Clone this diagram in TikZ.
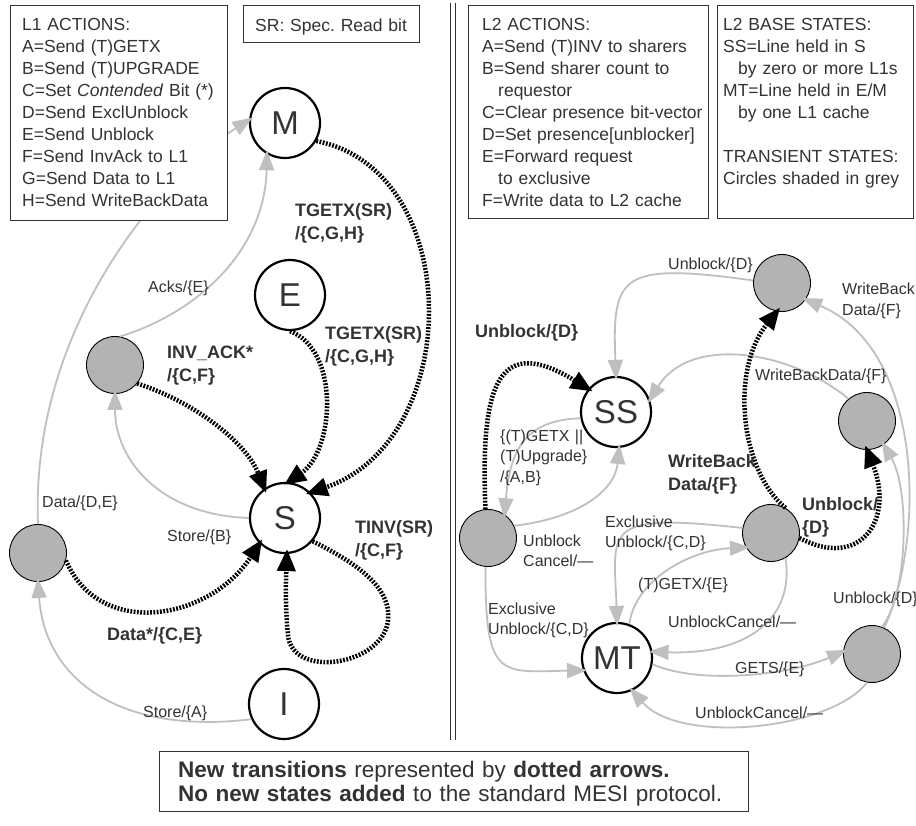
\documentclass[tikz,border=0pt]{standalone}
\usepackage{fontspec}
\setmainfont{Liberation Sans}
\usetikzlibrary{arrows.meta}
\frenchspacing

\definecolor{ink}{HTML}{333333}
\definecolor{edgegray}{HTML}{BFBFBF}
\definecolor{statefill}{HTML}{B3B3B3}

\newcommand\panfont{\fontsize{17.5}{22}\selectfont}
\newcommand\labfont{\fontsize{16}{20.5}\selectfont}
\newcommand\labbold{\fontsize{18}{23}\selectfont\bfseries}
\newcommand\circfont{\fontsize{33}{33}\selectfont}
\newcommand\notefont{\fontsize{22.5}{24}\selectfont}

\pgfdeclarelayer{paper}
\pgfdeclarelayer{states}
\pgfdeclarelayer{edges}
\pgfsetlayers{paper,states,edges,main}

\begin{document}
\begin{tikzpicture}[x=1pt,y=-1pt,
  base/.style={circle, draw=black, line width=2.2pt, minimum size=70pt, inner sep=0pt,
    fill=white, font=\circfont, text=ink},
  transient/.style={circle, draw=black, line width=0.9pt, minimum size=57pt, inner sep=0pt,
    fill=statefill},
  old/.style={draw=edgegray, line width=1.8pt, shorten >=-4pt,
    -{Triangle[length=20pt,width=15pt]}},
  new/.style={draw=black, line width=4.5pt, dash pattern=on 1.8pt off 1.5pt, shorten >=-5pt,
    -{Triangle[length=22pt,width=18pt]}},
  lbl/.style={font=\labfont, text=ink, inner sep=0pt, anchor=base west},
  lbltwo/.style={lbl, text width=150pt, align=left},
  bold/.style={font=\labbold, text=ink, inner sep=0pt, anchor=base west},
  boldtwo/.style={bold, text width=150pt, align=left},
  panel/.style={draw=ink, line width=1.1pt, fill=white, inner sep=0pt, anchor=north west},
  paneltext/.style={font=\panfont, text=ink, inner sep=0pt, anchor=base west,
    text width=230pt, align=left},
]
\begin{pgfonlayer}{paper}
  \fill[white] (0,0) rectangle (916,826);
\end{pgfonlayer}
\useasboundingbox (0,0) rectangle (916,826);

\begin{pgfonlayer}{states}
  % L1 controller states
  \node[base] (M) at (285,123) {M};
  \node[base] (E) at (290,295) {E};
  \node[base] (S) at (285,518) {S};
  \node[base] (I) at (284,704) {I};
  \node[transient] (g1) at (115,365) {};
  \node[transient] (g2) at (38,553) {};
  % L2 controller states
  \node[base] (SS) at (616,412) {SS};
  \node[base] (MT) at (617,658) {MT};
  \node[transient] (gt) at (782,283) {};
  \node[transient] (gmr) at (867,421) {};
  \node[transient] (gc) at (771,533) {};
  \node[transient] (gl) at (488,538) {};
  \node[transient] (gbr) at (872,654) {};
\end{pgfonlayer}

% ---------- transitions ----------
\begin{pgfonlayer}{edges}
  % L1: standard transitions
  \draw[old] (g2.north) .. controls (30,320) and (170,170) .. (M.175);
  \draw[old] (g1.80) .. controls (205,310) and (265,245) .. (M.240);
  \draw[old] (S.180) .. controls (160,515) and (115,460) .. (g1.south);
  \draw[old] (I.205) .. controls (120,735) and (45,680) .. (g2.south);
  % L1: new transitions
  \draw[new] (M.-30) .. controls (465,170) and (465,440) .. (S.45);
  \draw[new] (E.south) .. controls (340,350) and (335,450) .. (S.85);
  \draw[new] (g1.-40) .. controls (190,400) and (245,440) .. (S.125);
  \draw[new] (g2.-15) .. controls (100,640) and (210,620) .. (S.225);
  \draw[new] (S.-40) .. controls (350,560) and (392,585) .. (388,620)
             .. controls (384,665) and (292,680) .. (288,635)
             .. controls (285,605) and (286,580) .. (S.-87);
  % L2: standard transitions
  \draw[old] (gt.175) .. controls (620,262) and (612,275) .. (SS.north);
  \draw[old] (gbr.65) .. controls (925,540) and (925,350) .. (gt.-35);
  \draw[old] (gbr.70) .. controls (908,595) and (910,490) .. (gmr.-55);
  \draw[old] (gmr.130) .. controls (790,350) and (690,335) .. (SS.20);
  \draw[old] (SS.190) .. controls (525,420) and (510,450) .. (gl.55);
  \draw[old] (gl.25) .. controls (580,518) and (615,490) .. (SS.-85);
  \draw[old] (gc.170) .. controls (600,512) and (614,530) .. (MT.north);
  \draw[old] (MT.70) .. controls (635,580) and (690,550) .. (gc.210);
  \draw[old] (gc.-60) .. controls (795,620) and (745,655) .. (MT.10);
  \draw[old] (gl.-95) .. controls (485,680) and (500,672) .. (MT.200);
  \draw[old] (MT.-10) .. controls (700,685) and (790,675) .. (gbr.175);
  \draw[old] (gbr.-100) .. controls (830,730) and (680,745) .. (MT.-65);
  % L2: new transitions
  \draw[new] (gl.95) .. controls (480,380) and (500,335) .. (SS.140);
  \draw[new] (gc.60) .. controls (740,470) and (730,370) .. (gt.-100);
  \draw[new] (gc.-10) .. controls (860,570) and (895,520) .. (gmr.-90);
\end{pgfonlayer}

% ---------- legend panels ----------
\node[panel, minimum width=217pt, minimum height=215pt] (l1panel) at (10,5) {};
\node[paneltext] (l1text) at (22,31) {L1 ACTIONS:\\
  A=Send (T)GETX\\
  B=Send (T)UPGRADE\\
  C=Set \textit{Contended} Bit (*)\\
  D=Send ExclUnblock\\
  E=Send Unblock\\
  F=Send InvAck to L1\\
  G=Send Data to L1\\
  H=Send WriteBackData};

\node[panel, minimum width=176pt, minimum height=37pt] (srpanel) at (243,5) {};
\node[paneltext] (srtext) at (255,32) {SR: Spec. Read bit};

\node[panel, minimum width=240pt, minimum height=213pt] (l2panel) at (468,5) {};
\node[paneltext] (l2text) at (482,31) {L2 ACTIONS:\\
  A=Send (T)INV to sharers\\
  B=Send sharer count to\\
  \hspace*{16pt}requestor\\
  C=Clear presence bit-vector\\
  D=Set presence[unblocker]\\
  E=Forward request\\
  \hspace*{16pt}to exclusive\\
  F=Write data to L2 cache};

\node[panel, minimum width=196pt, minimum height=213pt] (stpanel) at (717,5) {};
\node[paneltext] (sttext) at (723,31) {L2 BASE STATES:\\
  SS=Line held in S\\
  \hspace*{15pt}by zero or more L1s\\
  MT=Line held in E/M\\
  \hspace*{15pt}by one L1 cache\\[22pt]
  TRANSIENT STATES:\\
  Circles shaded in grey};

% divider between the L1 and L2 halves
\draw[ink, line width=0.9pt] (450,3) -- (450,740);
\draw[ink, line width=0.9pt] (455,3) -- (455,740);

\node[panel, minimum width=589pt, minimum height=60pt] (notepanel) at (159,751) {};
\node[font=\notefont, text=ink, inner sep=0pt, anchor=base west, text width=580pt, align=left]
  (notetext) at (178,777) {\textbf{New transitions} represented by \textbf{dotted arrows.}\\
  \textbf{No new states added} to the standard MESI protocol.};

% ---------- transition labels: L1 ----------
\node[lbl] (lAcks) at (148,293) {Acks/\{E\}};
\node[lbl] (lDataDE) at (42,507) {Data/\{D,E\}};
\node[lbl] (lStoreB) at (167,541) {Store/\{B\}};
\node[lbl] (lStoreA) at (143,717) {Store/\{A\}};
\node[boldtwo] (lTgetxM) at (295,217) {TGETX(SR)\\/\{C,G,H\}};
\node[boldtwo] (lTgetxE) at (325,340) {TGETX(SR)\\/\{C,G,H\}};
\node[boldtwo] (lInvAck) at (167,359) {INV\_ACK*\\/\{C,F\}};
\node[bold] (lDataCE) at (107,640) {Data*/\{C,E\}};
\node[boldtwo] (lTinv) at (355,533) {TINV(SR)\\/\{C,F\}};

% ---------- transition labels: L2 ----------
\node[lbl] (rUnbTop) at (668,270) {Unblock/\{D\}};
\node[lbltwo] (rWbTop) at (842,295) {WriteBack\\Data/\{F\}};
\node[bold] (rUnbSS) at (475,338) {Unblock/\{D\}};
\node[lbl] (rWbMid) at (755,381) {WriteBackData/\{F\}};
\node[lbltwo] (rGetx) at (500,441) {\{(T)GETX ||\\(T)Upgrade\}\\/\{A,B\}};
\node[boldtwo] (rWbBold) at (668,467) {WriteBack\\Data/\{F\}};
\node[boldtwo] (rUnbBold) at (802,510) {Unblock/\\\{D\}};
\node[lbltwo] (rCancelL) at (523,546) {Unblock\\Cancel/—};
\node[lbltwo] (rExclUp) at (605,527) {Exclusive\\Unblock/\{C,D\}};
\node[lbl] (rGetxE) at (638,589) {(T)GETX/\{E\}};
\node[lbltwo] (rExclLow) at (488,614) {Exclusive\\Unblock/\{C,D\}};
\node[lbl] (rCancelMid) at (668,627) {UnblockCancel/—};
\node[lbl] (rUnbRight) at (833,603) {Unblock/\{D\}};
\node[lbl] (rGets) at (735,673) {GETS/\{E\}};
\node[lbl] (rCancelBot) at (695,718) {UnblockCancel/—};
\end{tikzpicture}
\end{document}
